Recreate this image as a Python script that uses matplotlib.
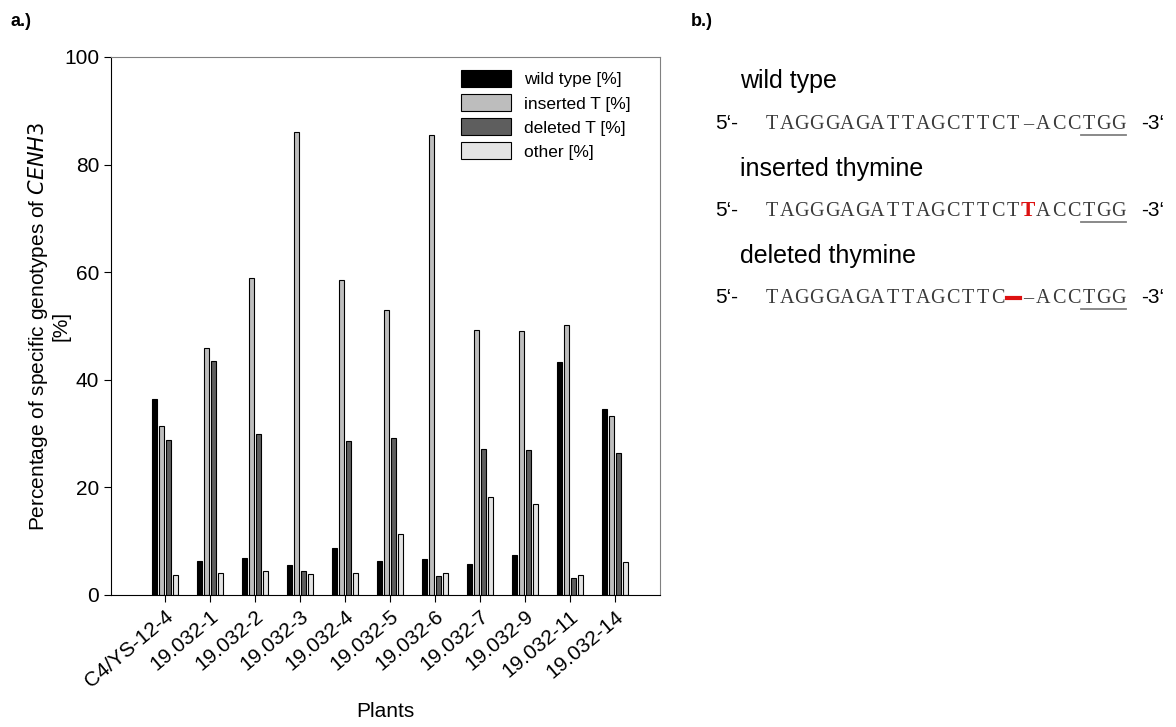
import numpy as np
import matplotlib
matplotlib.use('Agg')
import matplotlib.pyplot as plt
from matplotlib.lines import Line2D

plt.rcParams['font.family'] = ['Liberation Sans', 'DejaVu Sans']

# data
plants = ['C4/YS-12-4', '19.032-1', '19.032-2', '19.032-3', '19.032-4', '19.032-5',
          '19.032-6', '19.032-7', '19.032-9', '19.032-11', '19.032-14']
wild_type = [36.5, 6.3, 6.8, 5.5, 8.8, 6.3, 6.7, 5.7, 7.4, 43.3, 34.6]
inserted_t = [31.5, 46.0, 59.0, 86.0, 58.6, 53.0, 85.5, 49.2, 49.1, 50.2, 33.3]
deleted_t = [28.8, 43.5, 30.0, 4.5, 28.7, 29.2, 3.5, 27.2, 26.9, 3.1, 26.4]
other = [3.8, 4.0, 4.4, 3.9, 4.0, 11.4, 4.1, 18.2, 16.9, 3.7, 6.1]

series = [wild_type, inserted_t, deleted_t, other]
labels = ['wild type [%]', 'inserted T [%]', 'deleted T [%]', 'other [%]']
colors = ['#000000', '#bdbdbd', '#5e5e5e', '#e3e3e3']

W, H = 1176, 727
fig = plt.figure(figsize=(W / 100, H / 100), dpi=100)
ax = fig.add_axes([111 / W, 1 - 595 / H, (660 - 111) / W, (595 - 57) / H])

x = np.arange(len(plants))
step = 0.149
for i, (vals, lab, col) in enumerate(zip(series, labels, colors)):
    ax.bar(x + (i - 1.5) * step, vals, width=0.11, color=col, edgecolor='black',
           linewidth=0.8, label=lab)

ax.set_xlim(-1.2, 11.0)
ax.set_ylim(0, 100)
ax.set_yticks([0, 20, 40, 60, 80, 100])
ax.set_xticks(x)
ax.set_xticklabels(plants, rotation=40, ha='right', rotation_mode='anchor', fontsize=15)
ax.tick_params(axis='y', labelsize=15, direction='out', length=5)
ax.tick_params(axis='x', direction='out', length=5)
for s in ['top', 'right']:
    ax.spines[s].set_color('#808080')
ax.set_xlabel('Plants', fontsize=15, labelpad=8)
ax.set_ylabel('Percentage of specific genotypes of $\\it{CENH3}$\n[%]', fontsize=15,
              linespacing=1.1)
ax.yaxis.set_label_coords(-0.073, 0.5)

ax.legend(loc='upper right', bbox_to_anchor=(0.975, 1.005), frameon=False, fontsize=12.5,
          handlelength=2.9, handleheight=1.15, labelspacing=0.38, handletextpad=0.75)

fig.text(10 / W, 1 - 22 / H, 'a.)', fontsize=13, fontweight='bold', va='center')
fig.text(691 / W, 1 - 22 / H, 'b.)', fontsize=13, fontweight='bold', va='center')

# panel b: sequences, one character per monospace cell
serif = 'Liberation Serif'
cw = 15.1  # cell width in px
x0 = 764
seq_col = '#3a3a3a'


def px(xp, yp):
    return xp / W, 1 - yp / H


def seq_line(yp, seq, marks):
    fig.text(*px(715, yp), "5‘-", fontsize=15, va='baseline')
    for k, ch in enumerate(seq):
        col, wt, fs = marks.get(k, (seq_col, 'normal', 14.5))
        if ch == ' ':
            continue
        fig.text(*px(x0 + (k + 0.5) * cw, yp), ch, fontsize=fs, family=serif, color=col,
                 fontweight=wt, ha='center', va='baseline')
    fig.text(*px(1141, yp), "-3‘", fontsize=15, va='baseline')
    # underline TGG (cells 21..23)
    fig.add_artist(Line2D([(x0 + 21 * cw) / W, (x0 + 24 * cw) / W],
                          [1 - (yp + 6) / H] * 2, color='#808080', lw=1.3))


for yp, title in [(88, 'wild type'), (176, 'inserted thymine'), (263, 'deleted thymine')]:
    fig.text(*px(740, yp), title, fontsize=18, va='baseline')

seq_line(129, 'TAGGGAGATTAGCTTCT–ACCTGG', {})
seq_line(216, 'TAGGGAGATTAGCTTCTTACCTGG', {17: ('#dd1111', 'bold', 15.5)})
seq_line(303, 'TAGGGAGATTAGCTTC –ACCTGG', {})
# red deletion mark
fig.add_artist(Line2D([(x0 + 16 * cw + 1) / W, (x0 + 17 * cw - 1) / W],
                      [1 - 298 / H] * 2, color='#dd1111', lw=3))

fig.savefig('out.png', dpi=100)
